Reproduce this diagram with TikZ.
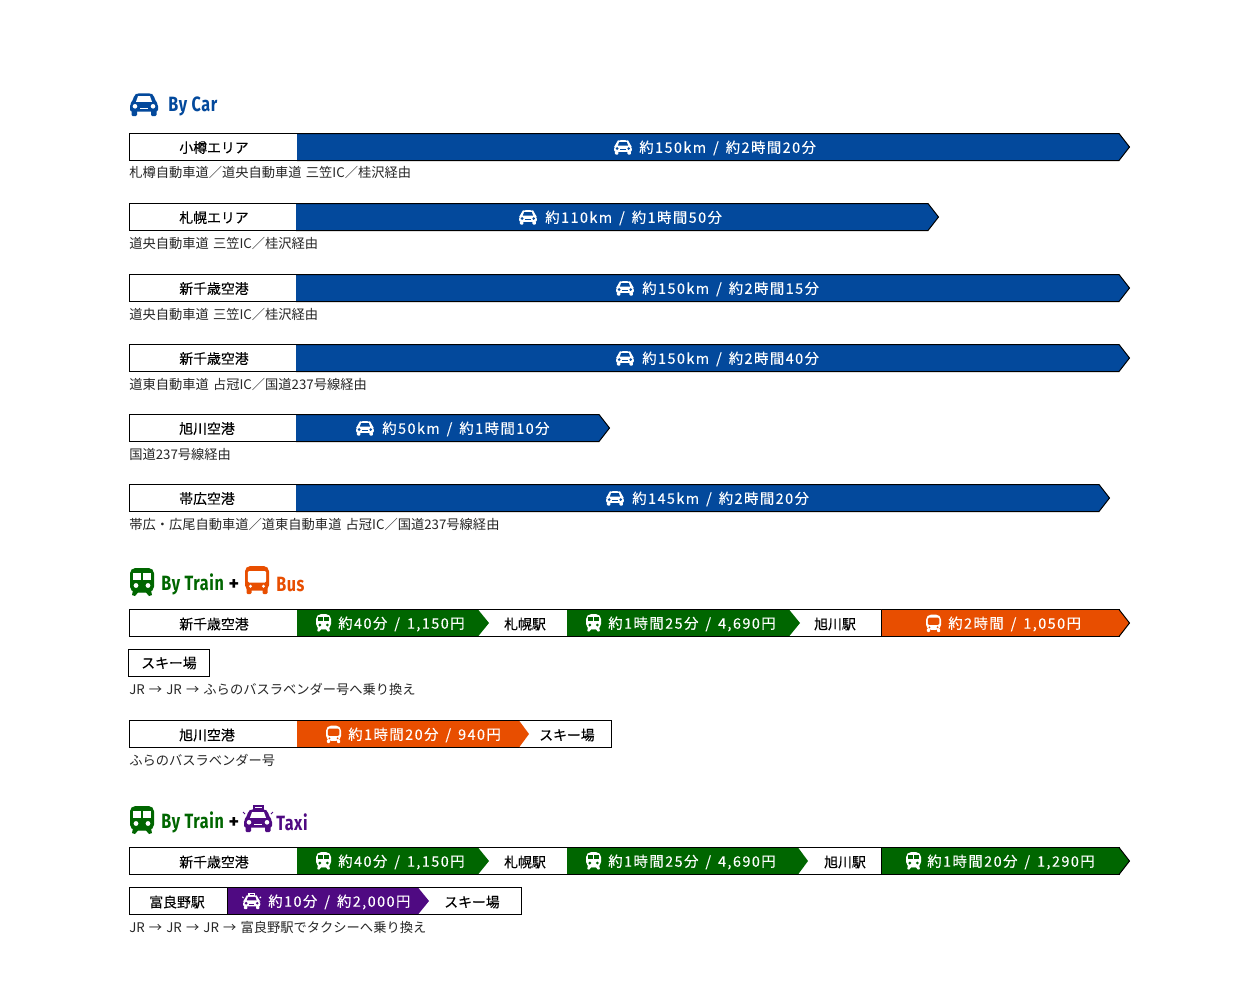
\documentclass[tikz,border=0pt]{standalone}
\usepackage{fontspec}
\setmainfont{Noto Sans CJK JP}
\newfontfamily\lblfont[FakeBold=0.25]{Noto Sans CJK JP}
\newfontfamily\notefont[WordSpace=1.4]{Noto Sans CJK JP}
\newfontfamily\barfont[LetterSpace=10,WordSpace=1.5,FakeBold=0.15]{Noto Sans CJK JP}
\newfontfamily\headfont[FakeStretch=0.78,LetterSpace=3]{Fira Sans}
\newfontfamily\plusfont{Fira Sans}
\definecolor{cblue}{HTML}{03499C}
\definecolor{cgreen}{HTML}{006600}
\definecolor{corange}{HTML}{E84E00}
\definecolor{cpurple}{HTML}{4F0A82}
\tikzset{
  lbl/.style={inner sep=0pt,yshift=-.4pt,font=\fontsize{10.4pt}{12pt}\lblfont,text=black},
  note/.style={inner sep=0pt,anchor=west,font=\fontsize{9.95pt}{12pt}\notefont,text=black!85},
  bartxt/.style={inner sep=0pt,anchor=west,yshift=-.75pt,font=\fontsize{10.8pt}{12pt}\barfont,text=white},
  head/.style={inner sep=0pt,anchor=west,yshift=-1.1pt,font=\fontsize{15.5pt}{18pt}\headfont\bfseries},
  plus/.style={inner sep=0pt,font=\fontsize{15pt}{15pt}\plusfont\bfseries,text=black},
  edge/.style={draw=black,line width=0.75pt}
}
% icons: x,y,scale,fg,bg
\newcommand\caricon[5]{\begin{scope}[shift={(#1,#2)},scale=#3]
 \fill[#4,rounded corners=1.5] (0,18.5)--(0,11)--(2,9)--(4.5,2)--(7,.3)--(21,.3)--(23.5,2)--(26,9)--(28,11)--(28,18.5)--cycle;
 \fill[#4,rounded corners=.8] (1.5,17) rectangle (7,23);
 \fill[#4,rounded corners=.8] (21,17) rectangle (26.5,23);
 \fill[#5] (6,8.8)--(8,3.2)--(20,3.2)--(22,8.8)--cycle;
 \fill[#5] (5,13.3) circle (2.3); \fill[#5] (23,13.3) circle (2.3);
 \fill[#5] (10,14.5) rectangle (18,16.2);
\end{scope}}
\newcommand\trainicon[5]{\begin{scope}[shift={(#1,#2)},scale=#3]
 \fill[#4,rounded corners=4] (0,0) rectangle (24,24);
 \fill[#4] (3,22)--(2,27)--(5,28)--(8,24.5)--(16,24.5)--(19,28)--(22,27)--(21,22)--cycle;
 \fill[#5] (3,4.5) rectangle (10.7,11.5);
 \fill[#5] (13.3,4.5) rectangle (21,11.5);
 \fill[#5] (6,17.5) circle (2.4); \fill[#5] (18,17.5) circle (2.4);
\end{scope}}
\newcommand\busicon[5]{\begin{scope}[shift={(#1,#2)},scale=#3]
 \fill[#4,rounded corners=4] (0,0) rectangle (24,24.5);
 \fill[#4,rounded corners=.8] (1.5,22) rectangle (6.5,28);
 \fill[#4,rounded corners=.8] (17.5,22) rectangle (22.5,28);
 \fill[#5,rounded corners=1] (2.8,5) rectangle (21.2,16.5);
 \fill[#5] (5.5,20.3) circle (1.6); \fill[#5] (18.5,20.3) circle (1.6);
\end{scope}}
\newcommand\taxiicon[5]{\begin{scope}[shift={(#1,#2)},scale=#3]
 \fill[#4] (8.5,0) rectangle (19.5,5);
 \fill[#5] (10.5,1.6) rectangle (17.5,3.4);
 \caricon{0}{4}{1}{#4}{#5}
 \draw[#4,line width=.75pt] (-1,7)--(1,9) (29,7)--(27,9);
\end{scope}}
\begin{document}
\begin{tikzpicture}[x=0.75pt,y=-0.75pt]
\useasboundingbox[fill=white] (0,0) rectangle (1233,1000);
% ---- By Car heading
\caricon{130}{93}{1}{cblue}{white}
\node[head,text=cblue] (hcar) at (168,105) {By Car};
% Car rows: y, x1, shoulder, tip
\newcommand\carrow[4]{
 \fill[white] (129,#1) rectangle (#2,#1+27);
 \draw[edge] (#2,#1) -- (129.5,#1) -- (129.5,#1+27) -- (#2,#1+27);
 \fill[cblue] (#2,#1)--(#3,#1)--(#4,#1+13.5)--(#3,#1+27)--(#2,#1+27)--cycle;
 \draw[edge] (#2,#1)--(#3,#1)--(#4,#1+13.5)--(#3,#1+27)--(#2,#1+27);
}
\carrow{133.5}{297}{1119}{1129.5}
\node[lbl] (a1) at (214,147) {小樽エリア};
\caricon{614}{140}{.64}{white}{cblue}
\node[bartxt] (b1) at (639,147) {約150km / 約2時間20分};
\node[note] (n1) at (129,172.5) {札樽自動車道／道央自動車道 三笠IC／桂沢経由};
\carrow{203.5}{296}{928}{938.5}
\node[lbl] (a2) at (214,217) {札幌エリア};
\caricon{519}{210}{.64}{white}{cblue}
\node[bartxt] (b2) at (545,217) {約110km / 約1時間50分};
\node[note] (n2) at (129,243.5) {道央自動車道 三笠IC／桂沢経由};
\carrow{274.5}{296}{1119}{1129.5}
\node[lbl] (a3) at (214,288) {新千歳空港};
\caricon{616}{281}{.64}{white}{cblue}
\node[bartxt] (b3) at (642,288) {約150km / 約2時間15分};
\node[note] (n3) at (129,314.5) {道央自動車道 三笠IC／桂沢経由};
\carrow{344.5}{296}{1119}{1129.5}
\node[lbl] (a4) at (214,358) {新千歳空港};
\caricon{616}{351}{.64}{white}{cblue}
\node[bartxt] (b4) at (642,358) {約150km / 約2時間40分};
\node[note] (n4) at (129,384.5) {道東自動車道 占冠IC／国道237号線経由};
\carrow{414.5}{296}{599}{609.5}
\node[lbl] (a5) at (207,428) {旭川空港};
\caricon{356}{421}{.64}{white}{cblue}
\node[bartxt] (b5) at (382,428) {約50km / 約1時間10分};
\node[note] (n5) at (129,454.5) {国道237号線経由};
\carrow{484.5}{296}{1099}{1109.5}
\node[lbl] (a6) at (207,498) {帯広空港};
\caricon{606}{491}{.64}{white}{cblue}
\node[bartxt] (b6) at (632,498) {約145km / 約2時間20分};
\node[note] (n6) at (129,524.5) {帯広・広尾自動車道／道東自動車道 占冠IC／国道237号線経由};
% ---- By Train + Bus heading
\trainicon{130}{568}{1}{cgreen}{white}
\node[head,text=cgreen] (htrain) at (161,583) {By Train};
\node[plus] (hplus) at (234,585) {+};
\busicon{245}{566}{1}{corange}{white}
\node[head,text=corange] (hbus) at (276,583) {Bus};
% row frame
\newcommand\frameline[3]{\fill[white] (#1,#3) rectangle (#2,#3+27);\draw[edge] (#1,#3) rectangle (#2,#3+27);}
\newcommand\chev[5]{% x1,shoulder,tip,y,colour
 \fill[#5] (#1,#4)--(#2,#4)--(#3,#4+13.5)--(#2,#4+27)--(#1,#4+27)--cycle;
 \draw[edge] (#1,#4)--(#2,#4) (#1,#4+27)--(#2,#4+27);}
\frameline{129.5}{1119}{609.5}
\chev{297}{478}{489}{609.5}{cgreen}
\chev{567}{789}{800}{609.5}{cgreen}
\chev{881.5}{1119}{1129.5}{609.5}{corange}
\draw[edge] (881.5,609.5)--(881.5,636.5);
\draw[edge] (1119,609.5)--(1129.5,623)--(1119,636.5);
\node[lbl] (c1) at (214,623.5) {新千歳空港};
\trainicon{316}{614}{.63}{white}{cgreen}
\node[bartxt] (c2) at (338,623) {約40分 / 1,150円};
\node[lbl] (c3) at (525,623.5) {札幌駅};
\trainicon{586}{614}{.63}{white}{cgreen}
\node[bartxt] (c4) at (608,623) {約1時間25分 / 4,690円};
\node[lbl] (c5) at (835,623.5) {旭川駅};
\busicon{926}{614.5}{.63}{white}{corange}
\node[bartxt] (c6) at (948,623) {約2時間 / 1,050円};
% ski box
\node[lbl,yshift=.4pt,draw=black,line width=.75pt,minimum width=60.75pt,minimum height=20.25pt] (ski1) at (169,663) {スキー場};
\node[note] (n7) at (129,689.5) {JR → JR → ふらのバスラベンダー号へ乗り換え};
% second bus row
\frameline{129.5}{611.5}{720.5}
\chev{297}{519}{529}{720.5}{corange}
\node[lbl] (d1) at (207,734.5) {旭川空港};
\busicon{326}{725.5}{.63}{white}{corange}
\node[bartxt] (d2) at (348,734) {約1時間20分 / 940円};
\node[lbl] (d3) at (567,734.5) {スキー場};
\node[note] (n8) at (129,760.5) {ふらのバスラベンダー号};
% ---- By Train + Taxi heading
\trainicon{130}{806}{1}{cgreen}{white}
\node[head,text=cgreen] (htrain2) at (161,821) {By Train};
\node[plus] (hplus2) at (234,823) {+};
\taxiicon{244}{805}{1}{cpurple}{white}
\node[head,text=cpurple] (htaxi) at (276,821) {Taxi};
\frameline{129.5}{1119}{847.5}
\chev{297}{478}{489}{847.5}{cgreen}
\chev{567}{798}{808}{847.5}{cgreen}
\chev{881.5}{1119}{1129.5}{847.5}{cgreen}
\draw[edge] (881.5,847.5)--(881.5,874.5);
\draw[edge] (1119,847.5)--(1129.5,861)--(1119,874.5);
\node[lbl] (e1) at (214,861.5) {新千歳空港};
\trainicon{316}{852}{.63}{white}{cgreen}
\node[bartxt] (e2) at (338,861) {約40分 / 1,150円};
\node[lbl] (e3) at (525,861.5) {札幌駅};
\trainicon{586}{852}{.63}{white}{cgreen}
\node[bartxt] (e4) at (608,861) {約1時間25分 / 4,690円};
\node[lbl] (e5) at (845,861.5) {旭川駅};
\trainicon{906}{852}{.63}{white}{cgreen}
\node[bartxt] (e6) at (927,861) {約1時間20分 / 1,290円};
% taxi row
\frameline{129.5}{521.5}{887.5}
\chev{227.5}{418}{429}{887.5}{cpurple}
\draw[edge] (227.5,887.5)--(227.5,914.5);
\node[lbl] (f1) at (177,901.5) {富良野駅};
\taxiicon{243}{892.5}{.62}{white}{cpurple}
\node[bartxt] (f2) at (268,901) {約10分 / 約2,000円};
\node[lbl] (f3) at (472,901.5) {スキー場};
\node[note] (n9) at (129,927.5) {JR → JR → JR → 富良野駅でタクシーへ乗り換え};
\end{tikzpicture}
\end{document}
